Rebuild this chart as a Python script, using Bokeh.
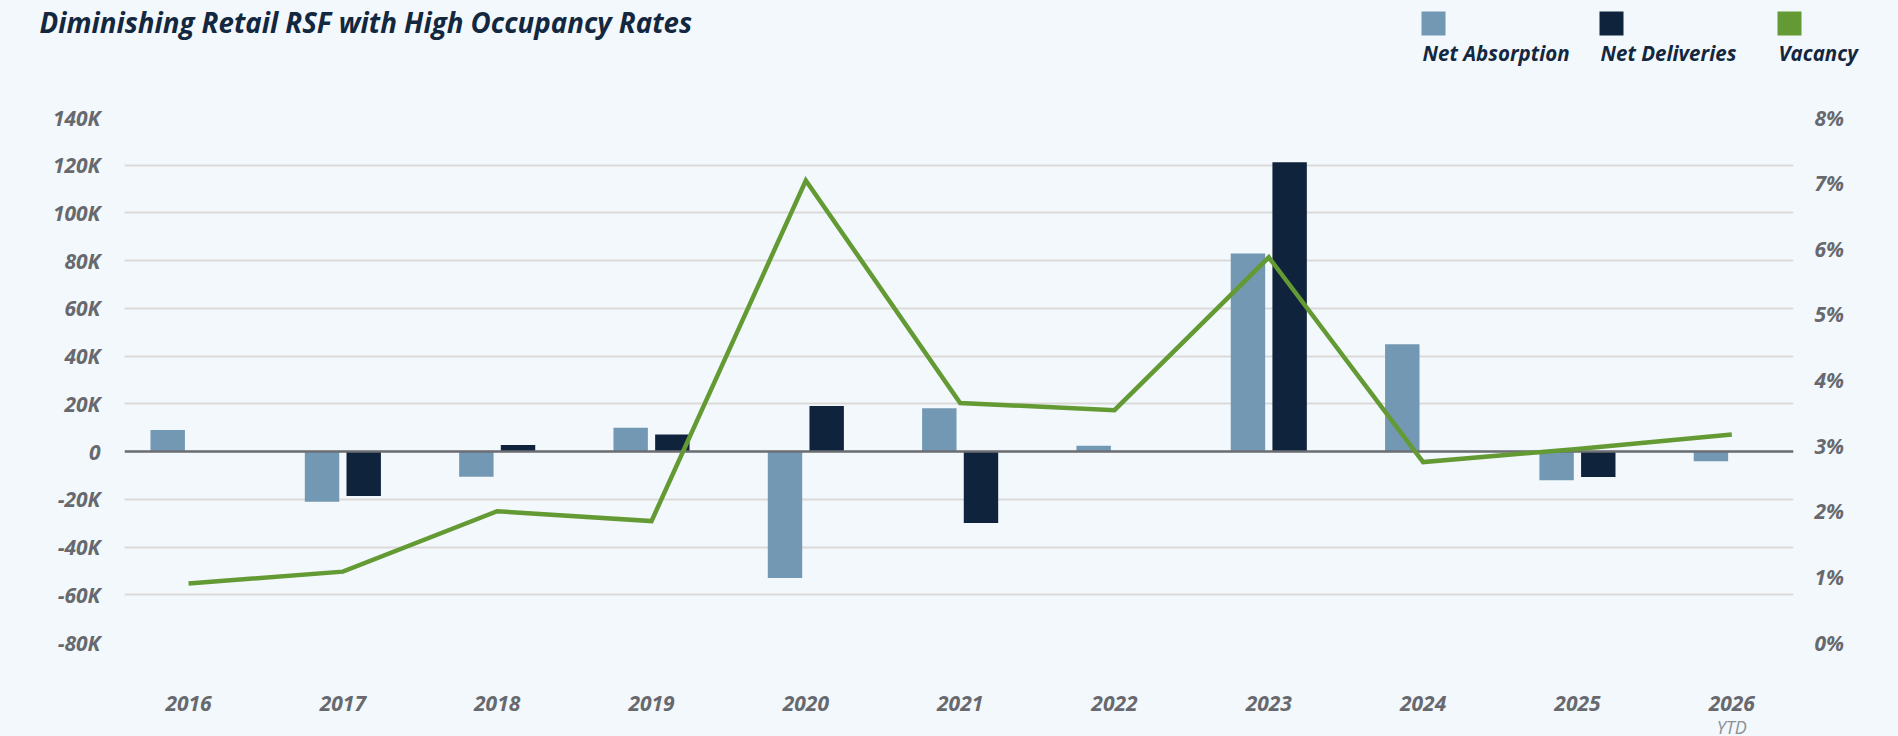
from bokeh.plotting import figure
from bokeh.layouts import column
from bokeh.models import (Range1d, LinearAxis, FixedTicker, CustomJSTickFormatter,
                          Label, BoxAnnotation, ColumnDataSource)
from bokeh.transform import dodge
from bokeh.embed import file_html
from bokeh.resources import INLINE

# ---------------- data ----------------
years = ["2016", "2017", "2018", "2019", "2020", "2021", "2022", "2023", "2024", "2025", "2026"]
net_absorption = [9000, -21000, -10500, 10000, -53000, 18200, 2400, 83000, 45000, -12000, -4000]
net_deliveries = [0, -18600, 2800, 7200, 19100, -29900, 0, 121300, 0, -10600, 0]
vacancy = [0.90, 1.08, 2.00, 1.85, 7.04, 3.65, 3.54, 5.87, 2.75, 2.95, 3.17]

left_ticks = [-80000, -60000, -40000, -20000, 0, 20000, 40000, 60000, 80000, 100000, 120000, 140000]
right_ticks = [0, 1, 2, 3, 4, 5, 6, 7, 8]
legend_labels = ["Net Absorption", "Net Deliveries", "Vacancy"]
title_text = "Diminishing Retail RSF with High Occupancy Rates"
ytd_text = "YTD"

# ---------------- style / layout ----------------
BG = "#f2f8fc"
NA_COLOR = "#7398b3"
ND_COLOR = "#0f243c"
VAC_COLOR = "#639a33"
GRID = "#dcdad8"
ZERO = "#6b6e72"
AX_TXT = "#67696e"
DARK_TXT = "#13273f"
FONT = "Open Sans"

W = 1898
HEAD_H = 90          # header strip (title + legend)
FOOT_H = 18          # footer strip (YTD note)
MAIN_H = 736 - HEAD_H - FOOT_H
FL, FR = 124, 1793   # frame left/right in page pixels
FT, FB = 117, 642    # frame top/bottom in page pixels
X0, X1 = -0.415, 10.40


def no_align(f):
    try:
        f.frame_align = False
    except Exception:
        pass


# ---------------- header: title + legend ----------------
head = figure(width=W, height=HEAD_H, x_range=Range1d(0, W), y_range=Range1d(HEAD_H, 0),
              min_border=0, min_border_left=0, min_border_right=0, min_border_top=0, min_border_bottom=0,
              output_backend="svg", toolbar_location=None,
              x_axis_location=None, y_axis_location=None,
              background_fill_color=BG, border_fill_color=BG, outline_line_color=None)
head.grid.visible = False
no_align(head)

head.add_layout(Label(x=39, y=21, text=title_text, text_font=FONT,
                      text_font_style="bold italic", text_font_size="27.7px",
                      text_color=DARK_TXT, text_align="left", text_baseline="alphabetic"))
leg_colors = [NA_COLOR, ND_COLOR, VAC_COLOR]
leg_px = [1421, 1599, 1777]
for lx, col, lab in zip(leg_px, leg_colors, legend_labels):
    head.add_layout(BoxAnnotation(left=lx, right=lx + 24, top=11, bottom=35,
                                  fill_color=col, fill_alpha=1.0, line_color=None))
    head.add_layout(Label(x=lx + 1, y=52.5, text=lab, text_font=FONT,
                          text_font_style="bold italic", text_font_size="20.5px",
                          text_color=DARK_TXT, text_align="left", text_baseline="alphabetic"))

# ---------------- main chart ----------------
src = ColumnDataSource(dict(x=list(range(len(years))), na=net_absorption,
                            nd=net_deliveries, vac=vacancy))

fig = figure(frame_width=FR - FL, frame_height=FB - FT,
             min_border_left=FL, min_border_right=W - FR,
             min_border_top=FT - HEAD_H, min_border_bottom=HEAD_H + MAIN_H - FB,
             x_range=Range1d(X0, X1), y_range=Range1d(-80000, 140000),
             output_backend="svg", toolbar_location=None,
             background_fill_color=BG, border_fill_color=BG, outline_line_color=None)
fig.extra_y_ranges = {"vac": Range1d(0, 8)}

fig.xgrid.visible = False
fig.ygrid.grid_line_color = GRID
fig.ygrid.grid_line_width = 2


def style_axis(ax, standoff):
    ax.axis_line_color = None
    ax.major_tick_line_color = None
    ax.minor_tick_line_color = None
    ax.major_tick_out = 0
    ax.major_tick_in = 0
    ax.major_label_standoff = standoff
    ax.major_label_text_font = FONT
    ax.major_label_text_font_style = "bold italic"
    ax.major_label_text_font_size = "21px"
    ax.major_label_text_color = AX_TXT


xa = fig.xaxis[0]
xa.ticker = FixedTicker(ticks=list(range(len(years))))
xa.major_label_overrides = {i: y for i, y in enumerate(years)}
style_axis(xa, 53)

ya = fig.yaxis[0]
ya.ticker = FixedTicker(ticks=left_ticks)
ya.formatter = CustomJSTickFormatter(code="return tick == 0 ? '0' : (tick/1000).toFixed(0) + 'K';")
style_axis(ya, 24)

ra = LinearAxis(y_range_name="vac", ticker=FixedTicker(ticks=right_ticks),
                formatter=CustomJSTickFormatter(code="return tick.toFixed(0) + '%';"))
style_axis(ra, 21)
fig.add_layout(ra, "right")

# bars
fig.vbar(x=dodge("x", -0.135, range=fig.x_range), top="na", bottom=0, width=0.223,
         source=src, fill_color=NA_COLOR, line_color=None)
fig.vbar(x=dodge("x", 0.135, range=fig.x_range), top="nd", bottom=0, width=0.223,
         source=src, fill_color=ND_COLOR, line_color=None)

# zero baseline
fig.hspan(y=[0], line_color=ZERO, line_width=2.5)

# vacancy line
fig.line(x="x", y="vac", source=src, y_range_name="vac", line_color=VAC_COLOR,
         line_width=4.5, line_join="miter")

# ---------------- footer: YTD note under the last year ----------------
foot = figure(frame_width=FR - FL, frame_height=FOOT_H,
              min_border_left=FL, min_border_right=W - FR, min_border_top=0, min_border_bottom=0,
              x_range=fig.x_range, y_range=Range1d(FOOT_H, 0),
              output_backend="svg", toolbar_location=None,
              x_axis_location=None, y_axis_location=None,
              background_fill_color=BG, border_fill_color=BG, outline_line_color=None)
foot.grid.visible = False
foot.add_layout(Label(x=len(years) - 1, y=8.5, text=ytd_text, text_font=FONT,
                      text_font_style="italic", text_font_size="18px",
                      text_color="#8d9094", text_align="center", text_baseline="alphabetic"))

p = column(head, fig, foot, spacing=0, styles={"background-color": BG})
open("out.html", "w").write(file_html(p, INLINE))
